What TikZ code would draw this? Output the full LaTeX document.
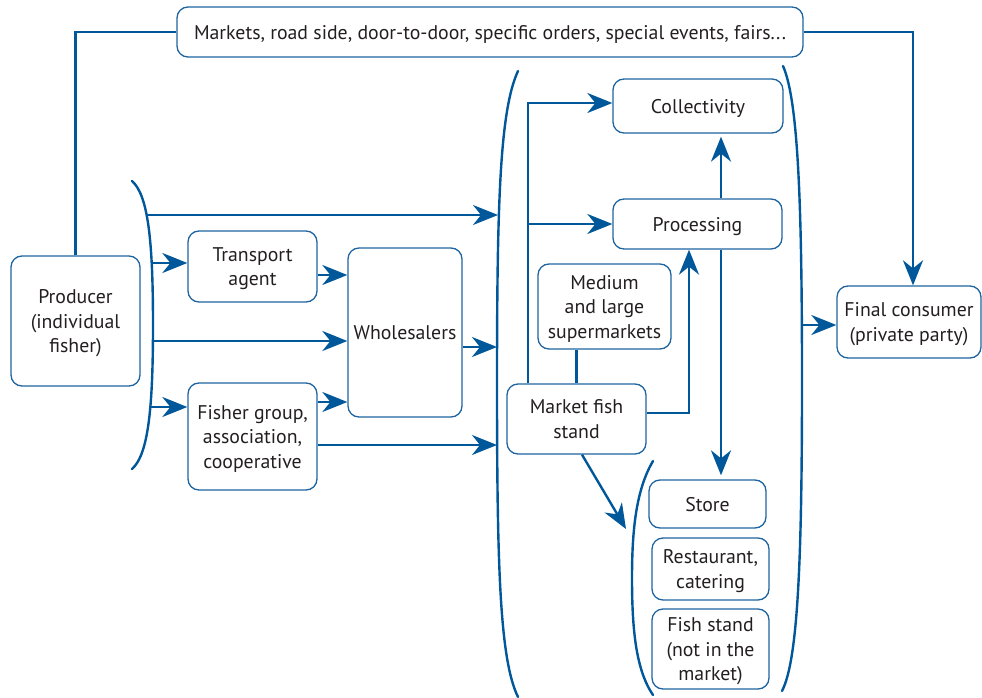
\documentclass[tikz,border=0pt]{standalone}
\usepackage{fontspec}
\setmainfont{PT Sans}
\usepackage{tikz}
\usetikzlibrary{arrows.meta, positioning, calc}

\definecolor{flowblue}{RGB}{0,88,155}
\definecolor{boxblue}{RGB}{30,100,160}
\definecolor{txtgray}{RGB}{35,31,32}

\tikzset{
  box/.style={draw=boxblue, line width=1.3pt, rounded corners=11pt, align=center,
    text=txtgray, inner sep=1pt, text depth=0pt, font=\fontsize{19.8}{24.5}\selectfont},
  link/.style={draw=flowblue, line width=2.4pt},
  flow/.style={link, -{Stealth[length=25pt, width=20pt, inset=8pt]}},
  brace/.style={draw=flowblue, line width=2.4pt, line cap=round}
}

\begin{document}
\begin{tikzpicture}[x=1pt, y=-1pt]
  \useasboundingbox (0,0) rectangle (982,698);

  % boxes
  \node[box, minimum width=626, minimum height=50] (markets) at (490,32)
    {Markets, road side, door-to-door, specific orders, special events, fairs...};
  \node[box, minimum width=129, minimum height=130] (producer) at (75.5,321)
    {Producer\\(individual\\fisher)};
  \node[box, minimum width=129, minimum height=71] (transport) at (252.5,266.5)
    {Transport\\agent};
  \node[box, minimum width=129, minimum height=107] (fishergrp) at (252.5,436.5)
    {Fisher group,\\association,\\cooperative};
  \node[box, minimum width=114, minimum height=169] (wholesale) at (405,332.5)
    {Wholesalers};
  \node[box, minimum width=170, minimum height=54] (collect) at (698,106)
    {Collectivity};
  \node[box, minimum width=169, minimum height=50] (process) at (697.5,224)
    {Processing};
  \node[box, minimum width=133, minimum height=85] (supermk) at (604.5,306.5)
    {Medium\\and large\\supermarkets};
  \node[box, minimum width=139, minimum height=70] (mktstand) at (576.5,419)
    {Market fish\\stand};
  \node[box, minimum width=117, minimum height=48] (store) at (707.5,504)
    {Store};
  \node[box, minimum width=117, minimum height=62] (restaurant) at (710.5,569)
    {Restaurant,\\catering};
  \node[box, minimum width=117, minimum height=80] (fishstand) at (710.5,649)
    {Fish stand\\(not in the\\market)};
  \node[box, minimum width=144, minimum height=72] (consumer) at (909,322)
    {Final consumer\\(private party)};

  % brackets
  \draw[brace] (132,181) .. controls (148,195) and (153,240) .. (153,325)
    .. controls (153,410) and (148,455) .. (132,469);
  \draw[brace] (518,71) .. controls (500,110) and (497,200) .. (497,384)
    .. controls (497,570) and (500,660) .. (518,697);
  \draw[brace] (783,66) .. controls (798,100) and (802,200) .. (802,380)
    .. controls (802,560) and (798,660) .. (782,691);
  \draw[brace] (653,461) .. controls (636,490) and (632,530) .. (632,578)
    .. controls (632,630) and (636,670) .. (653,695);

  % bracket ends
  \coordinate (prodA) at (147,215);
  \coordinate (prodB) at (153,263);
  \coordinate (prodC) at (153,341);
  \coordinate (prodD) at (151,407);
  \coordinate (retA) at (498,215);
  \coordinate (retC) at (497,347);
  \coordinate (retD) at (497,445);
  \coordinate (retOut) at (803,325);
  \coordinate (shopIn) at (626,529);
  \coordinate (spine) at (528,224);

  % connectors
  \draw[link] (markets.west) -| (producer.north);
  \draw[flow] (markets.east) -| ([xshift=4pt]consumer.north);
  \draw[flow] (prodA) -- (retA);
  \draw[flow] (prodB) -- (prodB -| transport.west);
  \draw[flow] (prodC) -- (prodC -| wholesale.west);
  \draw[flow] (prodD) -- (prodD -| fishergrp.west);
  \draw[flow] ([yshift=-8.5pt]transport.east) -- ([yshift=-8.5pt]transport.east -| wholesale.west);
  \draw[flow] ([yshift=34.5pt]fishergrp.east) -- ([yshift=34.5pt]fishergrp.east -| wholesale.west);
  \draw[flow] ([yshift=-8.5pt]fishergrp.east) -- (retD);
  \draw[flow] ([yshift=-14.5pt]wholesale.east) -- (retC);
  \draw[flow] (retOut) -- (retOut -| consumer.west);
  \draw[flow] ([xshift=-48.5pt]mktstand.north) |- ([yshift=3pt]collect.west);
  \draw[flow] (spine) -- (process.west);
  \draw[link] (mktstand.north) -- (mktstand.north |- supermk.south);
  \draw[flow] ([yshift=6pt]mktstand.east) -| ([xshift=-8.5pt]process.south);
  \draw[flow, shorten >=4pt] ([xshift=23.5pt]process.south) -- ([xshift=23.5pt]process.south |- store.north);
  \draw[flow, shorten >=3pt] ([xshift=23.5pt]process.north) -- ([xshift=23.5pt]process.north |- collect.south);
  \draw[flow] ([xshift=5.5pt]mktstand.south) -- (shopIn);
\end{tikzpicture}
\end{document}
